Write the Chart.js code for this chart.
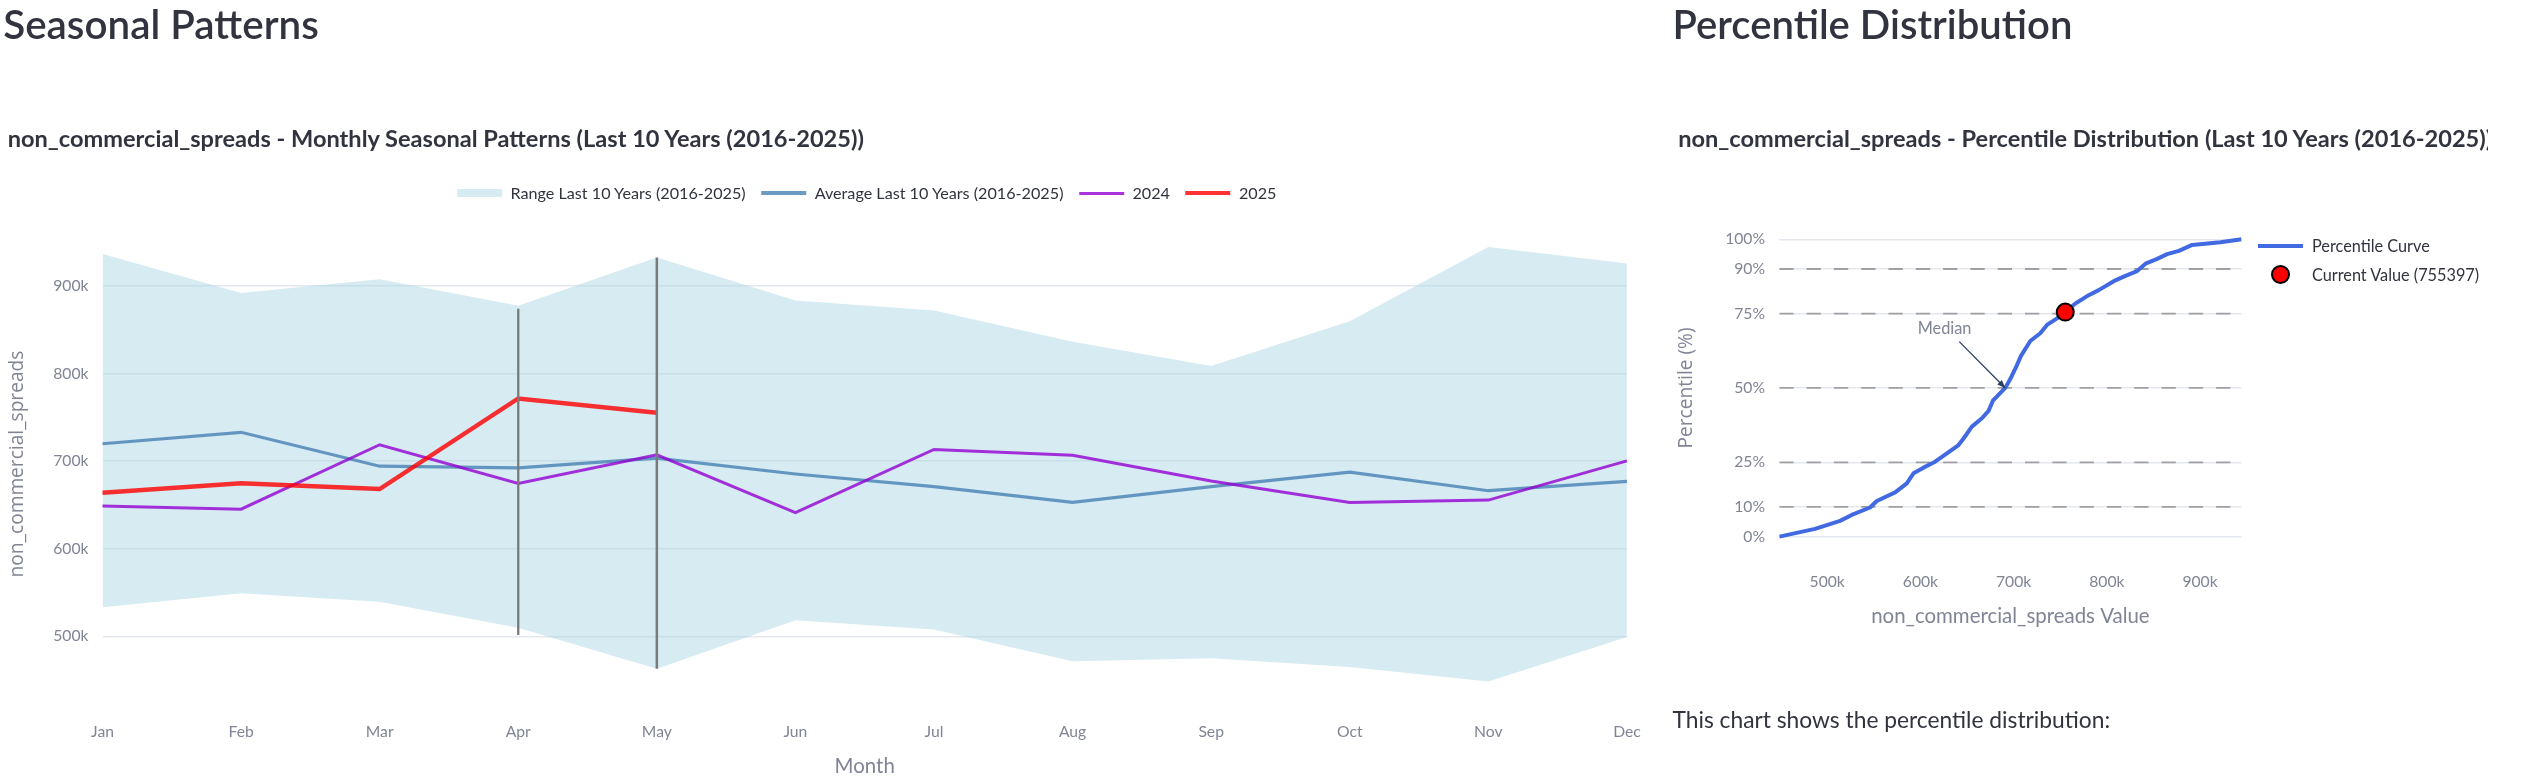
<!DOCTYPE html>
<html lang="en">
<head>
<meta charset="utf-8">
<title>Seasonal Patterns &amp; Percentile Distribution</title>
<script src="https://cdn.jsdelivr.net/npm/chart.js@4.4.1/dist/chart.umd.min.js"></script>
<style>
  html, body { margin: 0; padding: 0; background: #ffffff; }
  body { position: relative; width: 2533px; height: 784px; overflow: hidden; }
  canvas { position: absolute; top: 0; }
  #c1 { left: 0; }
  #c2 { left: 1660px; }
  .txt { position: absolute; white-space: nowrap; }
  .legend { position: absolute; display: flex; }
  .legend .item { display: flex; align-items: center; }
  .legend .sw { display: flex; align-items: center; justify-content: center; flex: none; }
  .legend .lab { white-space: nowrap; }
</style>
</head>
<body>
<canvas id="c1" width="1660" height="784"></canvas>
<canvas id="c2" width="873" height="784"></canvas>
<div id="legend1" class="legend"></div>
<div id="legend2" class="legend"></div>
<script>
// ---------------- data: seasonal chart ----------------
const months = ['Jan','Feb','Mar','Apr','May','Jun','Jul','Aug','Sep','Oct','Nov','Dec'];
const rangeMax = [936400, 892000, 907700, 877400, 932600, 883500, 872000, 836400, 808800, 859800, 944500, 925700];
const rangeMin = [533300, 549400, 539500, 510000, 463200, 518400, 508000, 471600, 475100, 465100, 448600, 499200];
const avg10   = [719900, 733000, 694300, 692300, 703400, 685400, 670900, 652900, 670900, 687400, 666300, 677000];
const y2024   = [649000, 645200, 718800, 674700, 707300, 641400, 713400, 706900, 677400, 652900, 655600, 700400];
const y2025   = [664000, 674700, 668200, 771600, 755397];
const aprBar  = [874000, 501500];
const mayBar  = [932600, 463200];
const seasonalYTicks = [500000, 600000, 700000, 800000, 900000];

// ---------------- data: percentile chart ----------------
const curveValues = [448600, 486900, 513800, 526300, 546000, 553200, 572900, 585400, 592600, 603300,
                     615800, 628400, 640900, 646300, 655200, 666000, 673100, 677800, 691000, 696400,
                     703600, 707900, 717900, 728600, 735800, 746600, 754800, 766300, 780600, 791300,
                     807400, 820000, 832500, 841500, 854000, 864700, 877300, 891600, 922000, 944500];
const curvePercentiles = [0, 2.6, 5.3, 7.3, 9.8, 12.0, 14.9, 17.9, 21.3, 23.2,
                          25.2, 28.0, 30.8, 33.0, 37.0, 39.8, 42.3, 45.7, 50.0, 53.0,
                          57.7, 60.8, 65.8, 68.4, 71.2, 73.4, 75.4, 78.4, 81.2, 82.9,
                          85.9, 87.7, 89.3, 91.8, 93.4, 95.0, 96.1, 98.1, 99.0, 100];
const currentValue = 755397;
const currentPercentile = 75.5;
const medianValue = 691000;
const medianPercentile = 50;
const refLevels = [10, 25, 50, 75, 90];
const pctTicks = [0, 10, 25, 50, 75, 90, 100];
const valueTicks = [500000, 600000, 700000, 800000, 900000];

// ---------------- styling helpers ----------------
const SANS = 'Lato, "Noto Sans", sans-serif';
const OPEN = '"Open Sans", "Noto Sans", sans-serif';
const INK = '#31333F', MUTED = '#808495', GRID = '#e3e7ee';

const mctx = document.createElement('canvas').getContext('2d');
function fit(text, target, family, weight) {
  mctx.font = weight + ' 100px ' + family;
  return 100 * target / mctx.measureText(text).width;
}
function placeText(text, x, baseline, size, weight, family, color, clipRight) {
  const el = document.createElement('div');
  el.className = 'txt';
  el.textContent = text;
  const L = size * 1.5;
  el.style.font = weight + ' ' + size + 'px ' + family;
  el.style.lineHeight = L + 'px';
  el.style.color = color;
  el.style.left = x + 'px';
  mctx.font = weight + ' ' + size + 'px ' + family;
  const m = mctx.measureText(text);
  const A = m.fontBoundingBoxAscent, D = m.fontBoundingBoxDescent;
  el.style.top = (baseline - ((L - (A + D)) / 2 + A)) + 'px';
  if (clipRight) { el.style.width = (clipRight - x) + 'px'; el.style.overflow = 'hidden'; }
  document.body.appendChild(el);
}

const leftTitle = 'non_commercial_spreads - Monthly Seasonal Patterns (Last 10 Years (2016-2025))';
const rightTitle = 'non_commercial_spreads - Percentile Distribution (Last 10 Years (2016-2025))';
const footer = 'This chart shows the percentile distribution:';

const tickSize = fit('900k', 35.3, SANS, 400);
const tickLH = tickSize * 1.2;
const xTitleSize = fit('non_commercial_spreads Value', 278.7, SANS, 400);
const xTitleLH = xTitleSize * 1.2;
const yTitleSize = fit('non_commercial_spreads', 227, OPEN, 400);
const yTitleLH = yTitleSize * 1.2;
const legendSize = fit('Range Last 10 Years (2016-2025)', 236, SANS, 400);
const legend2Size = fit('Current Value (755397)', 167.8, SANS, 400);
const medianSize = fit('Median', 53.7, SANS, 400);
const subSize = fit(leftTitle, 858, SANS, 700);

placeText('Seasonal Patterns', 3.2, 39.3, fit('Seasonal Patterns', 315.7, SANS, 600), 600, SANS, INK);
placeText('Percentile Distribution', 1672.5, 39.8, fit('Percentile Distribution', 400, SANS, 600), 600, SANS, INK);
placeText(leftTitle, 7.7, 147.7, subSize, 700, SANS, INK);
placeText(rightTitle, 1678.2, 148, subSize, 700, SANS, INK, 2487.8);
placeText(footer, 1672.5, 728.5, fit(footer, 438, SANS, 400), 400, SANS, INK);

// ---------------- HTML legend built from chart datasets ----------------
function buildLegend(chart, el, o) {
  el.style.flexDirection = o.column ? 'column' : 'row';
  chart.data.datasets.forEach(function (ds, i, arr) {
    if (!ds.label) return;
    const item = document.createElement('div');
    item.className = 'item';
    item.style.height = o.rowH + 'px';
    const sw = document.createElement('span');
    sw.className = 'sw';
    sw.style.width = o.swW + 'px';
    sw.style.height = o.rowH + 'px';
    sw.style.marginRight = o.gap + 'px';
    const mark = document.createElement('span');
    if (ds.fill) {
      mark.style.width = o.swW + 'px'; mark.style.height = '8px';
      mark.style.background = ds.backgroundColor;
    } else if (ds.showLine === false) {
      const d = 2 * ds.pointRadius + ds.pointBorderWidth;
      mark.style.width = d + 'px'; mark.style.height = d + 'px';
      mark.style.boxSizing = 'border-box';
      mark.style.borderRadius = '50%';
      mark.style.background = ds.pointBackgroundColor;
      mark.style.border = ds.pointBorderWidth + 'px solid ' + ds.pointBorderColor;
    } else {
      mark.style.width = o.swW + 'px'; mark.style.height = ds.borderWidth + 'px';
      mark.style.background = ds.borderColor;
    }
    sw.appendChild(mark);
    const lab = document.createElement('span');
    lab.className = 'lab';
    lab.textContent = ds.label;
    lab.style.font = o.size + 'px ' + SANS;
    lab.style.lineHeight = o.rowH + 'px';
    lab.style.color = INK;
    item.appendChild(sw);
    item.appendChild(lab);
    if (!o.column) item.style.marginRight = o.itemGap + 'px';
    el.appendChild(item);
  });
  if (!o.column && el.lastChild) el.lastChild.style.marginRight = '0px';
}

// ---------------- left chart: seasonal patterns ----------------
const chart1 = new Chart(document.getElementById('c1'), {
  type: 'line',
  data: {
    labels: months,
    datasets: [
      { data: rangeMin, borderWidth: 0, borderColor: 'rgba(0,0,0,0)', pointRadius: 0, fill: false, order: 6 },
      { label: 'Range Last 10 Years (2016-2025)', data: rangeMax, borderWidth: 0, borderColor: 'rgba(0,0,0,0)',
        backgroundColor: 'rgba(173,216,230,0.5)', pointRadius: 0, fill: '-1', order: 5 },
      { label: 'Average Last 10 Years (2016-2025)', data: avg10, borderColor: 'rgba(70,130,180,0.8)',
        borderWidth: 3.2, pointRadius: 0, fill: false, order: 4 },
      { label: '2024', data: y2024, borderColor: 'rgba(148,0,211,0.8)', borderWidth: 3, pointRadius: 0, fill: false, order: 3 },
      { label: '2025', data: y2025, borderColor: 'rgba(255,0,0,0.8)', borderWidth: 4.5, pointRadius: 0, fill: false, order: 2 },
      { data: aprBar.map(function (v) { return { x: 'Apr', y: v }; }), borderColor: '#7a7a7a', borderWidth: 2.3,
        pointRadius: 0, fill: false, order: 1 },
      { data: mayBar.map(function (v) { return { x: 'May', y: v }; }), borderColor: '#7a7a7a', borderWidth: 2.5,
        pointRadius: 0, fill: false, order: 1 }
    ]
  },
  options: {
    responsive: false, animation: false, events: [],
    layout: { padding: { top: 225, left: 0, right: 29, bottom: 0 } },
    plugins: { legend: { display: false }, tooltip: { enabled: false } },
    scales: {
      x: {
        type: 'category', offset: false,
        grid: { display: false, drawTicks: false, tickLength: 0 }, border: { display: false },
        ticks: { font: { family: SANS, size: tickSize }, color: MUTED, padding: 731.7 - 703 - tickLH / 2,
                 maxRotation: 0, minRotation: 0, autoSkip: false },
        title: { display: true, text: 'Month', font: { family: SANS, size: xTitleSize }, color: MUTED,
                 padding: { top: 0, bottom: 784 - 766 - xTitleLH / 2 } },
        afterFit: function (s) { s.height = 81; }
      },
      y: {
        type: 'linear', min: 424000, max: 969600,
        afterBuildTicks: function (s) { s.ticks = seasonalYTicks.map(function (v) { return { value: v }; }); },
        grid: { color: GRID, lineWidth: 1.5, drawTicks: false, tickLength: 0 }, border: { display: false },
        ticks: { font: { family: SANS, size: tickSize }, color: MUTED, padding: 14,
                 callback: function (v) { return (v / 1000) + 'k'; } },
        title: { display: true, text: 'non_commercial_spreads', font: { family: OPEN, size: yTitleSize }, color: MUTED,
                 padding: { top: 17.5 - yTitleLH / 2, bottom: 0 } },
        afterFit: function (s) { s.width = 102.5; }
      }
    }
  }
});

// ---------------- right chart: percentile distribution ----------------
const xMin = Math.min.apply(null, curveValues);
const xMax = Math.max.apply(null, curveValues);

const medianNote = {
  id: 'medianNote',
  afterDatasetsDraw: function (chart) {
    const ctx = chart.ctx, sx = chart.scales.x, sy = chart.scales.y;
    const px = sx.getPixelForValue(medianValue);
    const py = sy.getPixelForValue(medianPercentile);
    const tx = px - 46, ty = py - 46.3;
    ctx.save();
    ctx.strokeStyle = '#2a3f5f'; ctx.fillStyle = '#2a3f5f'; ctx.lineWidth = 1.3;
    ctx.beginPath(); ctx.moveTo(tx, ty); ctx.lineTo(px, py); ctx.stroke();
    const ang = Math.atan2(py - ty, px - tx), L = 8, W = 3.2;
    ctx.beginPath();
    ctx.moveTo(px, py);
    ctx.lineTo(px - L * Math.cos(ang) + W * Math.sin(ang), py - L * Math.sin(ang) - W * Math.cos(ang));
    ctx.lineTo(px - L * Math.cos(ang) - W * Math.sin(ang), py - L * Math.sin(ang) + W * Math.cos(ang));
    ctx.closePath(); ctx.fill();
    ctx.font = medianSize + 'px ' + SANS;
    ctx.fillStyle = MUTED; ctx.textAlign = 'center'; ctx.textBaseline = 'middle';
    ctx.fillText('Median', px - 60.7, py - 59.7);
    ctx.restore();
  }
};

const refDatasets = refLevels.map(function (lvl) {
  return { data: [{ x: xMin, y: lvl }, { x: xMax, y: lvl }], borderColor: 'rgba(128,128,128,0.7)',
           borderWidth: 1.8, borderDash: [14.3, 13], pointRadius: 0, fill: false, order: 3 };
});

const chart2 = new Chart(document.getElementById('c2'), {
  type: 'line',
  data: {
    datasets: [
      { label: 'Percentile Curve', data: curveValues.map(function (v, i) { return { x: v, y: curvePercentiles[i] }; }),
        borderColor: '#4169E1', borderWidth: 4, pointRadius: 0, fill: false, borderJoinStyle: 'round', order: 2 },
      { label: 'Current Value (' + currentValue + ')', data: [{ x: currentValue, y: currentPercentile }],
        showLine: false, pointRadius: 8.5, pointBackgroundColor: '#ff0000', pointBorderColor: '#000000',
        pointBorderWidth: 2, order: 1 }
    ].concat(refDatasets)
  },
  options: {
    responsive: false, animation: false, events: [],
    layout: { padding: { top: 222.9, left: 0, right: 873 - (2241.5 - 1660), bottom: 784 - 553 - 90 } },
    plugins: { legend: { display: false }, tooltip: { enabled: false } },
    scales: {
      x: {
        type: 'linear', min: xMin, max: xMax,
        afterBuildTicks: function (s) { s.ticks = valueTicks.map(function (v) { return { value: v }; }); },
        grid: { display: false, drawTicks: false, tickLength: 0 }, border: { display: false },
        ticks: { font: { family: SANS, size: tickSize }, color: MUTED, padding: 581.5 - 553 - tickLH / 2,
                 maxRotation: 0, callback: function (v) { return (v / 1000) + 'k'; } },
        title: { display: true, text: 'non_commercial_spreads Value', font: { family: SANS, size: xTitleSize }, color: MUTED,
                 padding: { top: 0, bottom: 643 - 616.5 - xTitleLH / 2 } },
        afterFit: function (s) { s.height = 90; }
      },
      y: {
        type: 'linear', min: -5.5, max: 105.5,
        afterBuildTicks: function (s) { s.ticks = pctTicks.map(function (v) { return { value: v }; }); },
        grid: { color: GRID, lineWidth: 1.5, drawTicks: false, tickLength: 0 }, border: { display: false },
        ticks: { font: { family: SANS, size: tickSize }, color: MUTED, padding: 14.3,
                 callback: function (v) { return v + '%'; } },
        title: { display: true, text: 'Percentile (%)', font: { family: OPEN, size: yTitleSize }, color: MUTED,
                 padding: { top: 26.7 - yTitleLH / 2, bottom: 0 } },
        afterFit: function (s) { s.width = 2779.3 - 2660; }
      }
    }
  },
  plugins: [medianNote]
});

// ---------------- legends ----------------
const lg1 = document.getElementById('legend1');
buildLegend(chart1, lg1, { column: false, rowH: 24, swW: 45, gap: 8.5, itemGap: 15.5, size: legendSize });
lg1.style.left = '866.75px';
lg1.style.top = (193 - 12) + 'px';
lg1.style.transform = 'translateX(-50%)';

const lg2 = document.getElementById('legend2');
buildLegend(chart2, lg2, { column: true, rowH: 29, swW: 45, gap: 9, itemGap: 0, size: legend2Size });
lg2.style.left = '2258px';
lg2.style.top = (245.5 - 14.5) + 'px';
</script>
</body>
</html>
